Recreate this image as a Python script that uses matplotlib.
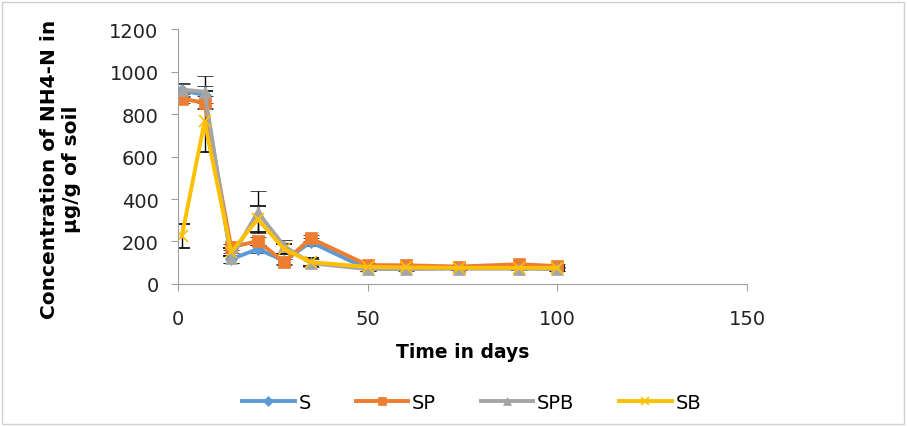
import matplotlib.pyplot as plt
from matplotlib.patches import Rectangle

plt.rcParams['font.family'] = ['DejaVu Sans']

# данные
days = [1, 7, 14, 21, 28, 35, 50, 60, 74, 90, 100]
s_vals = [911, 890, 117, 164, 110, 197, 70, 75, 75, 80, 70]
sp_vals = [872, 853, 173, 202, 103, 215, 89, 88, 82, 93, 84]
spb_vals = [915, 905, 122, 338, 178, 98, 70, 70, 72, 72, 70]
sb_vals = [225, 765, 150, 305, 164, 103, 80, 78, 76, 76, 76]
s_err = [30, 40, 20, 20, 15, 20, 10, 10, 8, 8, 10]
sp_err = [20, 30, 15, 20, 15, 15, 8, 8, 8, 8, 8]
spb_err = [30, 75, 25, 100, 30, 20, 8, 8, 8, 8, 8]
sb_err = [55, 145, 20, 60, 25, 20, 8, 8, 8, 8, 8]
names = ['S', 'SP', 'SPB', 'SB']

fig = plt.figure(figsize=(9.07, 4.27), dpi=100)
fig.patches.append(Rectangle((0.002, 0.004), 0.995, 0.99, transform=fig.transFigure,
                             fill=False, edgecolor='#d0d0d0', linewidth=1))
ax = fig.add_axes([0.1963, 0.3326, 0.6273, 0.597])

series = [
    (s_vals, s_err, '#5B9BD5', 'D', 6),
    (sp_vals, sp_err, '#ED7D31', 's', 8),
    (spb_vals, spb_err, '#A5A5A5', '^', 8),
    (sb_vals, sb_err, '#FFC000', 'x', 8),
]
for (vals, err, col, mk, ms), name in zip(series, names):
    ax.errorbar(days, vals, yerr=err, color=col, ecolor='black', elinewidth=1,
                capsize=5.5, capthick=1, marker=mk, markersize=ms, linewidth=2.8,
                markeredgewidth=1.2 if mk == 'x' else 0.5, markeredgecolor=col,
                label=name)

ax.set_xlim(0, 150)
ax.set_ylim(0, 1200)
ax.set_xticks([0, 50, 100, 150])
ax.set_yticks(range(0, 1201, 200))
for sp in ['top', 'right']:
    ax.spines[sp].set_visible(False)
for sp in ['left', 'bottom']:
    ax.spines[sp].set_color('#a0a0a0')
ax.tick_params(colors='#a0a0a0', labelcolor='#222222', labelsize=14, length=5)
ax.tick_params(axis='y', pad=9)
ax.tick_params(axis='x', pad=13)

ax.set_xlabel('Time in days', fontsize=13.5, fontweight='bold', labelpad=10)
ax.set_ylabel('Concentration of NH4-N in\nµg/g of soil', fontsize=14.5,
              fontweight='bold', linespacing=1.2, va='center')
ax.yaxis.set_label_coords(-0.207, 0.455)

handles, labels = ax.get_legend_handles_labels()
handles = [h[0] for h in handles]
fig.legend(handles, labels, loc='center', bbox_to_anchor=(0.52, 0.055), ncol=4,
           frameon=False, fontsize=14, handlelength=2.7, columnspacing=2.3,
           handletextpad=0.2, markerscale=0.8)

fig.savefig('out.png', dpi=100)
